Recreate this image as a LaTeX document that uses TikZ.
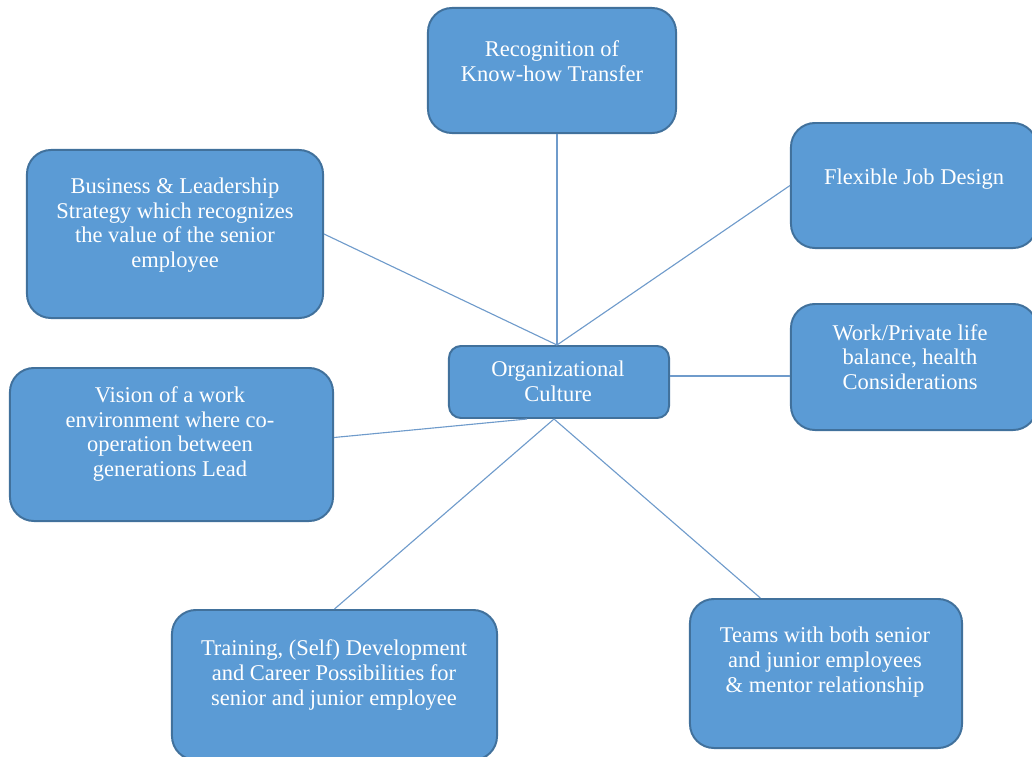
\documentclass[tikz,border=0pt]{standalone}
\usepackage{fontspec}
\setmainfont{Liberation Serif}
\usetikzlibrary{calc}
\definecolor{boxfill}{HTML}{5B9BD5}
\definecolor{boxline}{HTML}{41719C}
\definecolor{linkline}{HTML}{6F9BCB}
\begin{document}
\begin{tikzpicture}[
    x=0.025cm, y=-0.025cm,
    box/.style={rectangle, rounded corners=0.6cm, draw=boxline, fill=boxfill, line width=1.4pt},
    txt/.style={align=center, text=white, font=\fontsize{16}{17.5}\selectfont, inner sep=0pt},
    link/.style={draw=linkline, line width=0.8pt}
]
    \useasboundingbox (0,0) rectangle (1032,756);
    \clip (0,0) rectangle (1032,756);

    % Centre
    \node[box, rounded corners=0.3cm, minimum width=5.5cm, minimum height=1.8cm] (org) at (559,382) {};
    \node[txt] (t-org) at (558,381) {Organizational\\Culture};

    % Outer boxes
    \node[box, minimum width=6.2cm, minimum height=3.125cm] (rec) at (552,70.5) {};
    \node[txt] (t-rec) at (552,61) {Recognition of\\Know-how Transfer};

    \node[box, minimum width=6.15cm, minimum height=3.125cm] (flex) at (914,185.5) {};
    \node[txt] (t-flex) at (914,179) {Flexible Job Design};

    \node[box, minimum width=6.15cm, minimum height=3.15cm] (work) at (914,367) {};
    \node[txt] (t-work) at (910,357) {Work/Private life\\balance, health\\Considerations};

    \node[box, minimum width=7.4cm, minimum height=4.2cm] (bus) at (175,234) {};
    \node[txt] (t-bus) at (175,225) {Business \& Leadership\\Strategy which recognizes\\the value of the senior\\employee};

    \node[box, minimum width=8.075cm, minimum height=3.825cm] (vis) at (171.5,444.5) {};
    \node[txt] (t-vis) at (170,434) {Vision of a work\\environment where co-\\operation between\\generations Lead};

    \node[box, minimum width=8.125cm, minimum height=3.75cm] (train) at (334.5,685) {};
    \node[txt] (t-train) at (334,675) {Training, (Self) Development\\and Career Possibilities for\\senior and junior employee};

    \node[box, minimum width=6.8cm, minimum height=3.725cm] (team) at (826,673.5) {};
    \node[txt] (t-team) at (825,662) {Teams with both senior\\and junior employees\\\& mentor relationship};

    % Connectors
    \coordinate (orgtop) at ($(org.north)+(-2,0)$);
    \coordinate (orgbot) at ($(org.south)+(-5,0)$);
    \coordinate (orgsw) at ($(org.south)+(-32,0)$);
    \coordinate (orgright) at ($(org.east)+(0,-6)$);
    \coordinate (visright) at ($(vis.east)+(0,-7)$);
    \draw[link] (orgtop) -- (orgtop |- rec.south);
    \draw[link] (bus.east) -- (orgtop);
    \draw[link] (flex.west) -- (orgtop);
    \draw[link] (orgright) -- (orgright -| work.west);
    \draw[link] (visright) -- (orgsw);
    \draw[link] (train.north) -- (orgbot);
    \draw[link] (team.131) -- (orgbot);
\end{tikzpicture}
\end{document}
